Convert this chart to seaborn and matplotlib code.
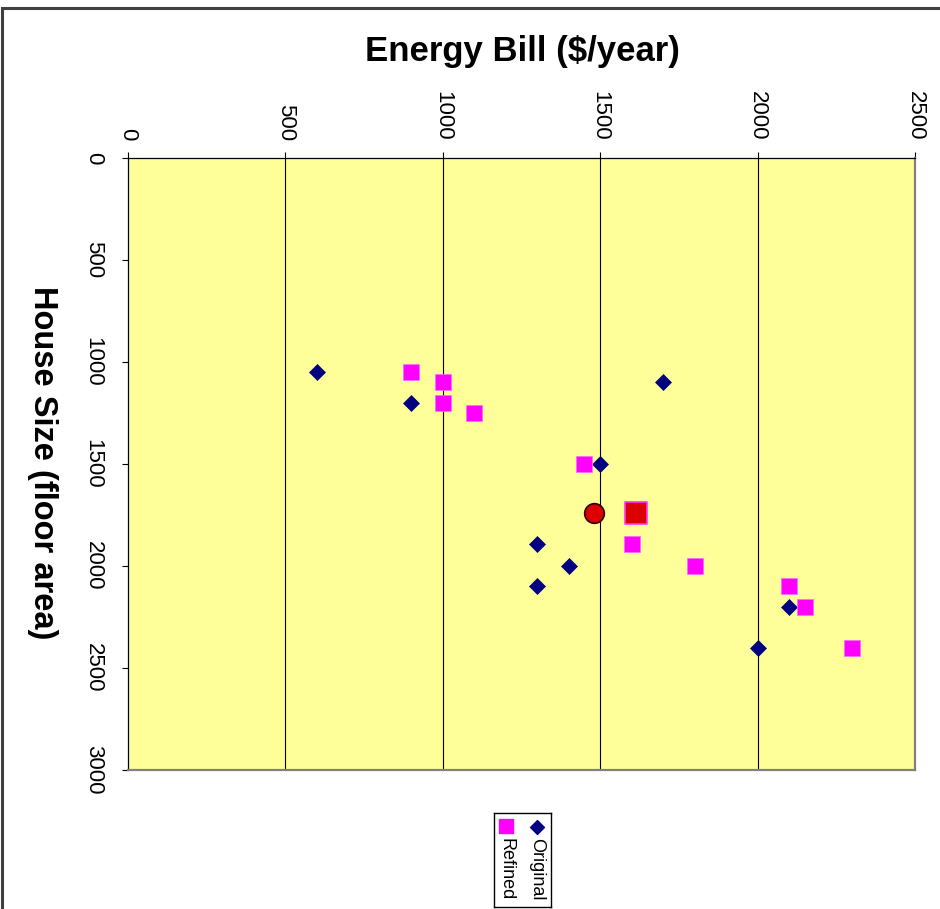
import matplotlib
matplotlib.use("Agg")
import matplotlib.pyplot as plt
from matplotlib.patches import Rectangle
import pandas as pd
import seaborn as sns

# Energy bill ($/year) and house size (floor area) for each house
original_bill = [600, 900, 1700, 1500, 1300, 1400, 1300, 2100, 2000]
original_size = [1050, 1200, 1100, 1500, 1890, 2000, 2100, 2200, 2400]

refined_bill = [900, 1000, 1000, 1100, 1450, 1600, 1800, 2100, 2150, 2300]
refined_size = [1050, 1100, 1200, 1250, 1500, 1890, 2000, 2100, 2200, 2400]

# Centre points of the two series
mean_original = (1480, 1740)
mean_refined = (1615, 1740)

bill_ticks = [0, 500, 1000, 1500, 2000, 2500]
size_ticks = [0, 500, 1000, 1500, 2000, 2500, 3000]

sns.set_style("white")
plt.rcParams["font.family"] = ["Liberation Sans", "DejaVu Sans"]
plt.rcParams["text.color"] = "black"
plt.rcParams["xtick.color"] = "black"
plt.rcParams["ytick.color"] = "black"
plt.rcParams["axes.labelcolor"] = "black"

df = pd.concat([
    pd.DataFrame({"bill": original_bill, "size": original_size, "series": "Original"}),
    pd.DataFrame({"bill": refined_bill, "size": refined_size, "series": "Refined"}),
])

W, H = 940, 909
fig = plt.figure(figsize=(W / 100, H / 100), dpi=100)
fig.patch.set_facecolor("white")

# outer chart frame
fig.patches.append(Rectangle((1.5 / W, -0.2), 1.3, (H - 8) / H + 0.2,
                             transform=fig.transFigure, fill=False,
                             edgecolor="#404040", linewidth=2.2, zorder=0))

L, R, T, B = 128, 915, 158, 770
ax = fig.add_axes([L / W, (H - B) / H, (R - L) / W, (B - T) / H])
ax.set_facecolor("#FFFF99")

sns.scatterplot(data=df[df.series == "Original"], x="bill", y="size", marker="D",
                s=66, color="#000080", edgecolor="#000080", linewidth=0.5,
                legend=False, ax=ax, zorder=3)
sns.scatterplot(data=df[df.series == "Refined"], x="bill", y="size", marker="s",
                s=117, color="#FF00FF", edgecolor="#FF66FF", linewidth=0.5,
                legend=False, ax=ax, zorder=4)
sns.scatterplot(x=[mean_original[0]], y=[mean_original[1]], marker="o", s=200,
                color="#DD0000", edgecolor="#300000", linewidth=1.2,
                legend=False, ax=ax, zorder=5)
sns.scatterplot(x=[mean_refined[0]], y=[mean_refined[1]], marker="s", s=245,
                color="#DD0000", edgecolor="#FF33FF", linewidth=1.2,
                legend=False, ax=ax, zorder=5)

ax.set_xlim(0, 2500)
ax.set_ylim(3000, 0)
ax.xaxis.set_ticks_position("top")
ax.xaxis.set_label_position("top")
ax.set_xticks(bill_ticks)
ax.set_yticks(size_ticks)
ax.set_xticklabels([str(v) for v in bill_ticks], rotation=-90, fontsize=16,
                   color="black")
ax.set_yticklabels([str(v) for v in size_ticks], rotation=-90, fontsize=16,
                   va="center", color="black")
ax.tick_params(axis="x", direction="out", length=4.5, width=0.8, color="black",
               pad=8, top=True, bottom=False)
ax.tick_params(axis="y", direction="out", length=4.5, width=0.8, color="black",
               pad=13, left=True, right=False)

for v in bill_ticks[1:-1]:
    ax.axvline(v, color="black", linewidth=0.8, zorder=1)

for side in ["top", "left"]:
    ax.spines[side].set_color("black")
    ax.spines[side].set_linewidth(0.9)
for side in ["right", "bottom"]:
    ax.spines[side].set_color("#808080")
    ax.spines[side].set_linewidth(1.6)

ax.set_xlabel("")
ax.set_ylabel("")
fig.text(522 / W, 1 - 52 / H, "Energy Bill ($/year)", ha="center", va="center",
         fontsize=25, fontweight="bold", color="black")
fig.text(42 / W, 1 - 463 / H, "House Size (floor area)", ha="center", va="center",
         fontsize=23.5, fontweight="bold", rotation=-90, color="black")

# legend, turned on its side like the rest of the chart
lx0, lx1, ly0, ly1 = 494, 551, 813, 907
lax = fig.add_axes([lx0 / W, (H - ly1) / H, (lx1 - lx0) / W, (ly1 - ly0) / H])
lax.set_xlim(lx0, lx1)
lax.set_ylim(ly1, ly0)
lax.set_xticks([])
lax.set_yticks([])
for s in lax.spines.values():
    s.set_color("black")
    s.set_linewidth(1.0)
lax.set_facecolor("white")
lax.scatter([537], [827], marker="D", s=50, color="#000080")
lax.scatter([506], [826], marker="s", s=95, color="#FF00FF")
lax.text(537, 838, "Original", rotation=-90, ha="center", va="top", fontsize=13,
         color="black")
lax.text(506, 838, "Refined", rotation=-90, ha="center", va="top", fontsize=13,
         color="black")

fig.savefig("out.png", dpi=100)
